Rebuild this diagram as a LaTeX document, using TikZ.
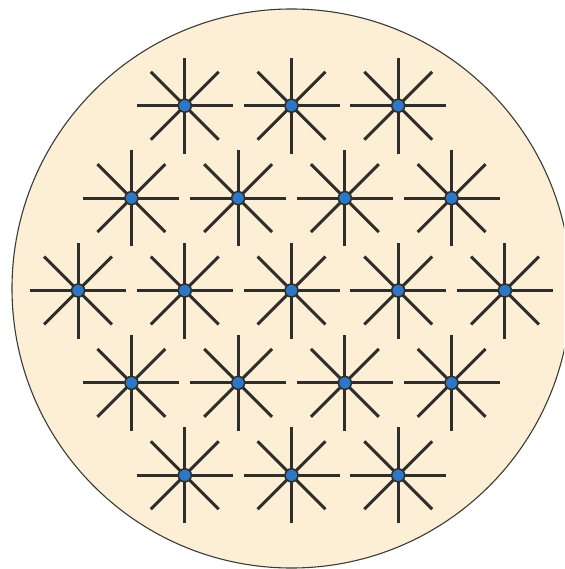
\documentclass[tikz,border=0pt]{standalone}
\usetikzlibrary{calc}
\definecolor{bgbeige}{HTML}{FCEFD5}
\definecolor{dotblue}{HTML}{2C78C6}
\definecolor{armgray}{HTML}{302E2A}
\definecolor{rimgray}{HTML}{3A3A36}
\tikzset{
  arm/.style={draw=armgray, line width=3pt},
  dotnode/.style={circle, fill=dotblue, draw=armgray, line width=1.5pt, minimum size=13pt, inner sep=0pt},
  rim/.style={draw=rimgray, line width=1.1pt, fill=bgbeige}
}
\begin{document}
\begin{tikzpicture}[x=1pt,y=-1pt]
\useasboundingbox (0,0) rectangle (564,569);
\clip (0,0) rectangle (564,569);
\draw[rim] (291.5,288.5) circle[radius=279.5];
\def\cx{291.5}\def\cy{290.5}\def\hx{106.7}\def\vy{92.4}
% rows: row index, x offsets
\foreach \r/\list in {-2/{-1,0,1}, -1/{-1.5,-0.5,0.5,1.5}, 0/{-2,-1,0,1,2}, 1/{-1.5,-0.5,0.5,1.5}, 2/{-1,0,1}}{
  \foreach \c in \list{
    \coordinate (p) at ({\cx+\c*\hx},{\cy+\r*\vy});
    \foreach \a in {0,45,90,135}{
      \draw[arm] ($(p)+(\a:48)$) -- ($(p)+(\a+180:48)$);
    }
    \node[dotnode] (s\r\c) at (p) {};
  }
}
\end{tikzpicture}
\end{document}
